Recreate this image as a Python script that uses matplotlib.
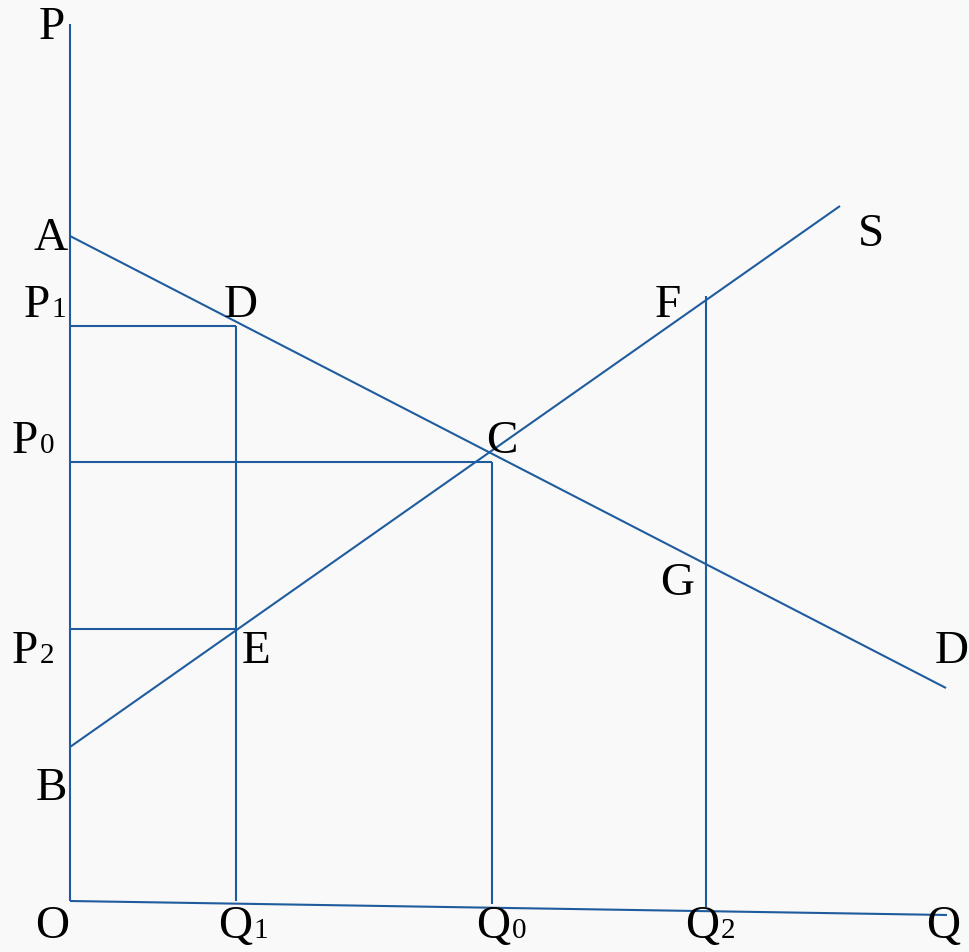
import matplotlib.pyplot as plt

# key points of the diagram (pixel-like units, y grows downward)
origin = (70, 902)
p_axis_top = (70, 25)
q_axis_end = (947, 916)
A = (70, 237)
demand_end = (946, 689)
B = (70, 748)
supply_end = (840, 207)
D_pt = (236, 327)
C_pt = (492, 463)
E_pt = (236, 630)
F_pt = (706, 297)
q_bottom = [902, 905, 908]

# labels: text, digit (drawn smaller, old-style look), x, baseline y
labels = ["P", "A", "P", "D", "P", "C", "F", "S", "G", "P", "E", "D", "B", "O", "Q", "Q", "Q", "Q"]
digits = ["", "", "1", "", "0", "", "", "", "", "2", "", "", "", "", "1", "0", "2", ""]
label_x = [39, 34, 24, 224, 12, 486, 655, 858, 660, 12, 242, 935, 36, 35, 218, 476, 685, 926]
label_y = [39, 250, 317, 317, 453, 453, 317, 246, 595, 663, 663, 663, 800, 938, 938, 938, 938, 938]

blue = "#1f5c9e"
lw = 1.5

fig = plt.figure(figsize=(9.7, 9.53), dpi=100)
fig.patch.set_facecolor("#f9f9f9")
ax = fig.add_axes([0, 0, 1, 1])
ax.set_xlim(0, 970)
ax.set_ylim(953, 0)
ax.axis("off")


def seg(p, q):
    ax.plot([p[0], q[0]], [p[1], q[1]], color=blue, lw=lw, solid_capstyle="butt")


# axes
seg(p_axis_top, origin)
seg(origin, q_axis_end)

# demand and supply
seg(A, demand_end)
seg(B, supply_end)

# guide lines to the axes
seg((origin[0], D_pt[1]), D_pt)
seg(D_pt, (D_pt[0], q_bottom[0]))
seg((origin[0], C_pt[1]), C_pt)
seg(C_pt, (C_pt[0], q_bottom[1]))
seg((origin[0], E_pt[1]), E_pt)
seg(F_pt, (F_pt[0], q_bottom[2]))

font = "Liberation Serif"
for t, d, x, y in zip(labels, digits, label_x, label_y):
    txt = ax.text(x, y, t, fontsize=34, family=font, ha="left", va="baseline",
                  color="black")
    if d:
        ax.annotate(d, xy=(1, 0), xycoords=txt, xytext=(1, 3),
                    textcoords="offset points", fontsize=21, family=font,
                    ha="left", va="bottom", color="black")

fig.savefig("out.png", dpi=100, facecolor=fig.get_facecolor())
